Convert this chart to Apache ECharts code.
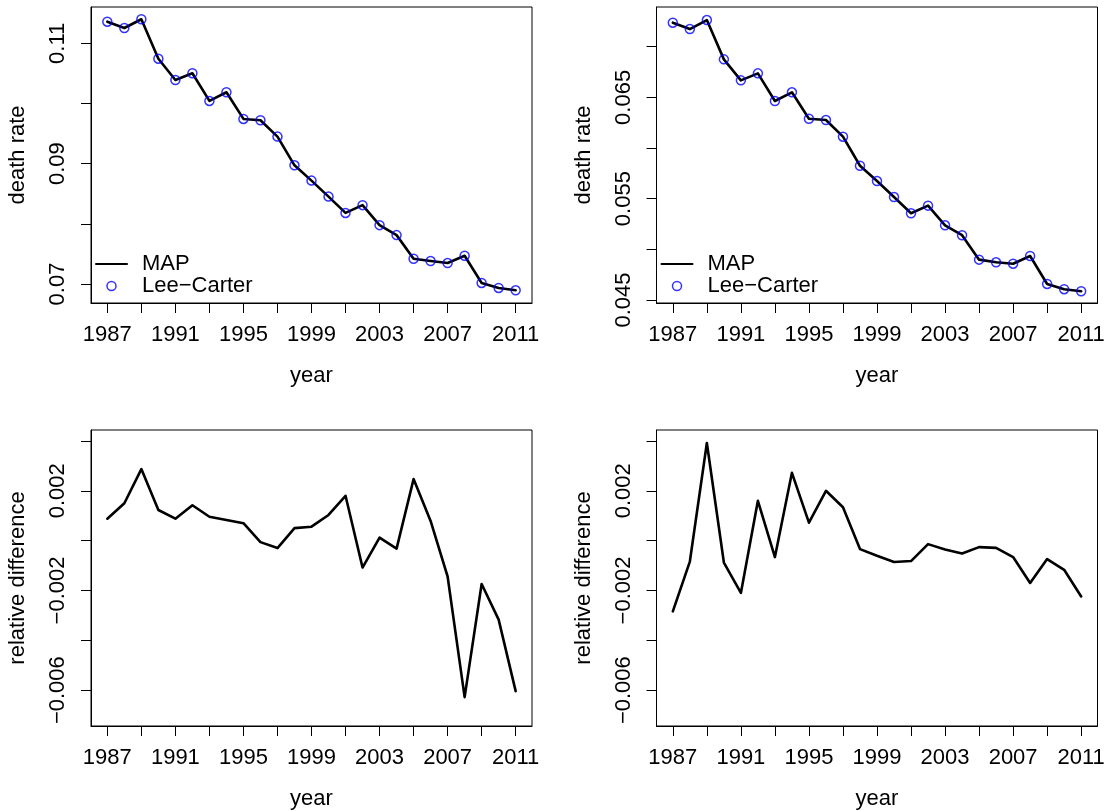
<!DOCTYPE html>
<html>
<head>
<meta charset="utf-8">
<title>MAP vs Lee-Carter death rates</title>
<script src="https://cdn.jsdelivr.net/npm/echarts@6/dist/echarts.min.js"></script>
<style>
  html, body { margin: 0; padding: 0; background: #fff; }
  #chart { width: 1110px; height: 811px; }
</style>
</head>
<body>
<div id="chart"></div>
<script>
// Years covered by every panel
const years = [1987, 1988, 1989, 1990, 1991, 1992, 1993, 1994, 1995, 1996, 1997, 1998, 1999,
               2000, 2001, 2002, 2003, 2004, 2005, 2006, 2007, 2008, 2009, 2010, 2011];

// Left column: death rates (MAP fit and Lee-Carter fit)
const mapRatesLeft = [0.11359, 0.11254, 0.11399, 0.10744, 0.10390, 0.10502, 0.10042, 0.10186,
                      0.09743, 0.09721, 0.09449, 0.08972, 0.08718, 0.08452, 0.08181, 0.08310,
                      0.07978, 0.07812, 0.07419, 0.07381, 0.07348, 0.07469, 0.07017, 0.06934, 0.06895];
const leeCarterLeft = [0.11359, 0.11254, 0.11399, 0.10744, 0.10390, 0.10502, 0.10042, 0.10186,
                       0.09743, 0.09721, 0.09449, 0.08972, 0.08718, 0.08452, 0.08181, 0.08310,
                       0.07978, 0.07812, 0.07419, 0.07381, 0.07348, 0.07469, 0.07017, 0.06934, 0.06895];

// Right column: death rates (MAP fit and Lee-Carter fit)
const mapRatesRight = [0.07237, 0.07174, 0.07263, 0.06875, 0.06668, 0.06737, 0.06464, 0.06550,
                       0.06289, 0.06276, 0.06112, 0.05825, 0.05674, 0.05516, 0.05356, 0.05431,
                       0.05237, 0.05139, 0.04898, 0.04872, 0.04858, 0.04934, 0.04658, 0.04606, 0.04586];
const leeCarterRight = [0.07237, 0.07174, 0.07263, 0.06875, 0.06668, 0.06737, 0.06464, 0.06550,
                        0.06289, 0.06276, 0.06112, 0.05825, 0.05674, 0.05516, 0.05356, 0.05431,
                        0.05237, 0.05139, 0.04898, 0.04872, 0.04858, 0.04934, 0.04658, 0.04606, 0.04586];

// Relative difference between the two fits
const relDiffLeft = [0.00088, 0.00150, 0.00287, 0.00123, 0.00088, 0.00142, 0.00096, 0.00083,
                     0.00070, -0.00006, -0.00030, 0.00050, 0.00056, 0.00103, 0.00180, -0.00108,
                     0.00012, -0.00032, 0.00247, 0.00079, -0.00144, -0.00628, -0.00174, -0.00317, -0.00604];
const relDiffRight = [-0.00284, -0.00084, 0.00392, -0.00088, -0.00210, 0.00160, -0.00066, 0.00272,
                      0.00072, 0.00200, 0.00134, -0.00034, -0.00061, -0.00086, -0.00082, -0.00014,
                      -0.00036, -0.00052, -0.00026, -0.00029, -0.00066, -0.00170, -0.00074, -0.00117, -0.00224];

// Tick marks and labelled ticks
const yearTicks = [1987, 1989, 1991, 1993, 1995, 1997, 1999, 2001, 2003, 2005, 2007, 2009, 2011];
const yearLabels = [1987, 1991, 1995, 1999, 2003, 2007, 2011];
const rateTicksLeft = [0.07, 0.08, 0.09, 0.10, 0.11];
const rateLabelsLeft = [0.07, 0.09, 0.11];
const rateTicksRight = [0.045, 0.050, 0.055, 0.060, 0.065, 0.070];
const rateLabelsRight = [0.045, 0.055, 0.065];
const diffTicks = [-0.006, -0.004, -0.002, 0, 0.002, 0.004];
const diffLabels = [-0.006, -0.002, 0.002];

const FONT = '"Liberation Sans", Arial, Helvetica, sans-serif';
const FS = 22;
const pairs = (xs, ys) => xs.map((x, i) => [x, ys[i]]);
const fmt = digits => v => v.toFixed(digits).replace('-', '\u2212');

// Plot boxes (pixels)
const boxes = [
  { left: 91,    top: 7,   width: 441, height: 296 },
  { left: 656.5, top: 7,   width: 441, height: 296 },
  { left: 91,    top: 430, width: 441, height: 297 },
  { left: 656.5, top: 430, width: 441, height: 297 }
];

function yearAxis(gridIndex) {
  return {
    type: 'value', gridIndex: gridIndex,
    min: 1986.04, max: 2011.96,
    name: 'year', nameLocation: 'middle', nameGap: 62,
    nameTextStyle: { fontSize: FS, color: '#000', fontFamily: FONT },
    axisLine: { show: true, onZero: false, lineStyle: { color: '#000', width: 1 } },
    axisTick: { show: true, length: 10, customValues: yearTicks, lineStyle: { color: '#000', width: 1 } },
    axisLabel: { show: true, margin: 21, fontSize: FS, color: '#000', fontFamily: FONT,
                 customValues: yearLabels, formatter: v => String(v) },
    splitLine: { show: false }
  };
}

function valueAxis(gridIndex, name, min, max, ticks, labels, digits) {
  return {
    type: 'value', gridIndex: gridIndex, min: min, max: max,
    name: name, nameLocation: 'middle', nameGap: 62, nameRotate: 90,
    nameTextStyle: { fontSize: FS, color: '#000', fontFamily: FONT },
    axisLine: { show: true, onZero: false, lineStyle: { color: '#000', width: 1 } },
    axisTick: { show: true, length: 10, customValues: ticks, lineStyle: { color: '#000', width: 1 } },
    axisLabel: { show: true, rotate: 90, margin: 22, fontSize: FS, color: '#000', fontFamily: FONT,
                 customValues: labels, formatter: fmt(digits) },
    splitLine: { show: false }
  };
}

const mapLine = { color: '#000', width: 2.6, cap: 'round', join: 'round' };
const lcStyle = { color: 'transparent', borderColor: '#0000ff', borderWidth: 1.5 };

function legendFor(left) {
  return {
    orient: 'vertical', left: left, top: 253, padding: 0,
    itemWidth: 31, itemHeight: 9, itemGap: 0, selectedMode: false,
    textStyle: { fontSize: FS, fontFamily: FONT, color: '#000', lineHeight: 20, padding: [0, 0, 0, 10] },
    data: [
      { name: 'MAP', itemStyle: { opacity: 0 } },
      { name: 'Lee\u2212Carter', itemStyle: lcStyle }
    ]
  };
}

const option = {
  animation: false,
  backgroundColor: '#fff',
  grid: boxes.map(b => Object.assign({ show: true, borderColor: '#000', borderWidth: 1,
                                        backgroundColor: 'transparent' }, b)),
  legend: [legendFor(95), legendFor(660.5)],
  xAxis: [yearAxis(0), yearAxis(1), yearAxis(2), yearAxis(3)],
  yAxis: [
    valueAxis(0, 'death rate', 0.06684, 0.11603, rateTicksLeft, rateLabelsLeft, 2),
    valueAxis(1, 'death rate', 0.04470, 0.07392, rateTicksRight, rateLabelsRight, 3),
    valueAxis(2, 'relative difference', -0.00744, 0.00444, diffTicks, diffLabels, 3),
    valueAxis(3, 'relative difference', -0.00744, 0.00444, diffTicks, diffLabels, 3)
  ],
  series: [
    { name: 'MAP', type: 'line', xAxisIndex: 0, yAxisIndex: 0, symbol: 'none', showSymbol: false,
      lineStyle: mapLine, itemStyle: { color: '#000' }, data: pairs(years, mapRatesLeft), z: 2 },
    { name: 'Lee\u2212Carter', type: 'scatter', xAxisIndex: 0, yAxisIndex: 0, symbol: 'circle',
      symbolSize: 9, itemStyle: lcStyle, data: pairs(years, leeCarterLeft), z: 3 },
    { name: 'MAP', type: 'line', xAxisIndex: 1, yAxisIndex: 1, symbol: 'none', showSymbol: false,
      lineStyle: mapLine, itemStyle: { color: '#000' }, data: pairs(years, mapRatesRight), z: 2 },
    { name: 'Lee\u2212Carter', type: 'scatter', xAxisIndex: 1, yAxisIndex: 1, symbol: 'circle',
      symbolSize: 9, itemStyle: lcStyle, data: pairs(years, leeCarterRight), z: 3 },
    { name: 'relative difference (left)', type: 'line', xAxisIndex: 2, yAxisIndex: 2, symbol: 'none',
      showSymbol: false, lineStyle: mapLine, data: pairs(years, relDiffLeft) },
    { name: 'relative difference (right)', type: 'line', xAxisIndex: 3, yAxisIndex: 3, symbol: 'none',
      showSymbol: false, lineStyle: mapLine, data: pairs(years, relDiffRight) }
  ]
};

const chart = echarts.init(document.getElementById('chart'), null, { renderer: 'canvas' });
chart.setOption(option);
</script>
</body>
</html>
